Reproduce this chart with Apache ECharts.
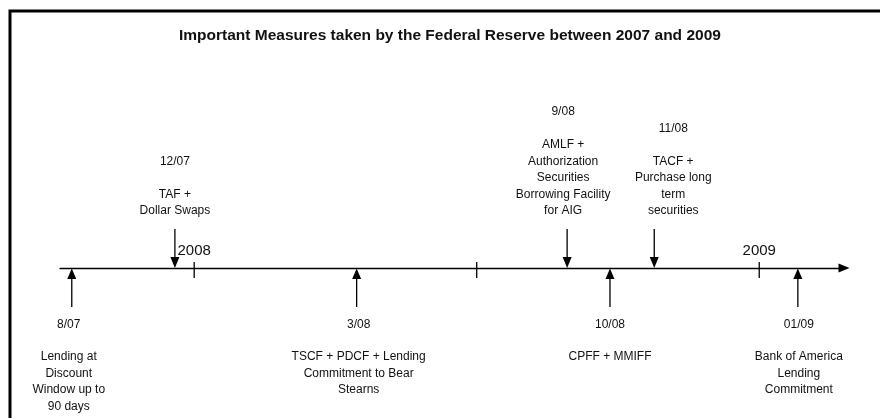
<!DOCTYPE html>
<html>
<head>
<meta charset="utf-8">
<script src="https://cdn.jsdelivr.net/npm/echarts@6/dist/echarts.min.js"></script>
<style>
html,body{margin:0;padding:0;background:#fff;}
#chart{width:880px;height:418px;}
</style>
</head>
<body>
<div id="chart"></div>
<script>
// ---- data ----
const chartTitle = 'Important Measures taken by the Federal Reserve between 2007 and 2009';
// event positions on the timeline, in months after January 2008 (schematic placement)
const eventDates = ['8/07', '12/07', '3/08', '9/08', '10/08', '11/08', '01/09'];
const eventPos = [-2.6, -0.41, 3.45, 7.92, 8.83, 9.77, 12.82];
const eventSide = ['below', 'above', 'below', 'above', 'below', 'above', 'below'];
const eventText = [
  ['Lending at', 'Discount', 'Window up to', '90 days'],
  ['TAF +', 'Dollar Swaps'],
  ['TSCF + PDCF + Lending', 'Commitment to Bear', 'Stearns'],
  ['AMLF +', 'Authorization', 'Securities', 'Borrowing Facility', 'for AIG'],
  ['CPFF + MMIFF'],
  ['TACF +', 'Purchase long', 'term', 'securities'],
  ['Bank of America', 'Lending', 'Commitment']
];
const tickPos = [0, 6, 12];
const yearTickPos = [0, 12];
const yearLabels = ['2008', '2009'];

// ---- layout / style ----
const FONT = "'Liberation Sans', Arial, sans-serif";
const INK = '#111';
const labelShift = [-3, 0, 2, -4, 0, 19, 1]; // horizontal nudge of text blocks, px
const LINE_H = 16.5;

const chart = echarts.init(document.getElementById('chart'), null, {renderer: 'canvas'});

function eventItem(params, api) {
  const i = params.dataIndex;
  const pt = api.coord([api.value(0), 0]);
  const x = pt[0], y = pt[1];
  const tx = x + labelShift[i];
  const stroke = {stroke: '#000', lineWidth: 1.3, fill: null};
  const kids = [];
  if (eventSide[i] === 'above') {
    kids.push({type: 'line', shape: {x1: x, y1: y - 39, x2: x, y2: y - 10}, style: stroke});
    kids.push({type: 'polygon', shape: {points: [[x - 4.5, y - 11], [x + 4.5, y - 11], [x, y]]}, style: {fill: '#000'}});
    const lastY = y - 57;
    const firstY = lastY - (eventText[i].length - 1) * LINE_H;
    kids.push({type: 'text', style: {text: eventText[i].join('\n'), x: tx, y: lastY + LINE_H / 2, align: 'center', verticalAlign: 'bottom', lineHeight: LINE_H, fontSize: 12, fontFamily: FONT, fill: INK}});
    kids.push({type: 'text', style: {text: eventDates[i], x: tx, y: firstY - 33, align: 'center', verticalAlign: 'middle', fontSize: 12, fontFamily: FONT, fill: INK}});
  } else {
    kids.push({type: 'line', shape: {x1: x, y1: y + 10, x2: x, y2: y + 39}, style: stroke});
    kids.push({type: 'polygon', shape: {points: [[x - 4.5, y + 11], [x + 4.5, y + 11], [x, y + 0.5]]}, style: {fill: '#000'}});
    kids.push({type: 'text', style: {text: eventDates[i], x: tx, y: y + 57, align: 'center', verticalAlign: 'middle', fontSize: 12, fontFamily: FONT, fill: INK}});
    kids.push({type: 'text', style: {text: eventText[i].join('\n'), x: tx, y: y + 89 - LINE_H / 2, align: 'center', verticalAlign: 'top', lineHeight: LINE_H, fontSize: 12, fontFamily: FONT, fill: INK}});
  }
  return {type: 'group', children: kids};
}

function tickItem(params, api) {
  const pt = api.coord([api.value(0), 0]);
  return {type: 'line', shape: {x1: pt[0], y1: pt[1] - 6, x2: pt[0], y2: pt[1] + 10}, style: {stroke: '#000', lineWidth: 1.3}};
}

chart.setOption({
  animation: false,
  backgroundColor: '#fff',
  title: {
    text: chartTitle,
    left: 179,
    top: 28,
    padding: 0,
    textStyle: {fontFamily: FONT, fontSize: 15.5, fontWeight: 'bold', color: INK}
  },
  graphic: [{
    type: 'rect',
    shape: {x: 10, y: 11, width: 1000, height: 1000},
    style: {fill: null, stroke: '#000', lineWidth: 3},
    silent: true
  }],
  grid: {left: 60, right: 36, top: 60, bottom: 150},
  xAxis: {
    type: 'value',
    min: -2.85,
    max: 13.8,
    splitLine: {show: false},
    axisTick: {show: false},
    axisLine: {
      show: true,
      onZero: false,
      symbol: ['none', 'triangle'],
      symbolSize: [9, 11],
      lineStyle: {color: '#000', width: 1.3}
    },
    axisLabel: {
      show: true,
      inside: true,
      margin: 10,
      customValues: yearTickPos,
      formatter: function (v) {
        const k = yearTickPos.indexOf(v);
        return k >= 0 ? yearLabels[k] : '';
      },
      fontFamily: FONT,
      fontSize: 15,
      color: INK
    }
  },
  yAxis: {type: 'value', min: 0, max: 1, show: false},
  series: [
    {
      type: 'custom',
      name: 'ticks',
      clip: false,
      renderItem: tickItem,
      data: tickPos.map(function (p) { return [p, 0]; }),
      silent: true
    },
    {
      type: 'custom',
      name: 'events',
      clip: false,
      renderItem: eventItem,
      data: eventPos.map(function (p) { return [p, 0]; }),
      silent: true
    }
  ]
});
</script>
</body>
</html>
